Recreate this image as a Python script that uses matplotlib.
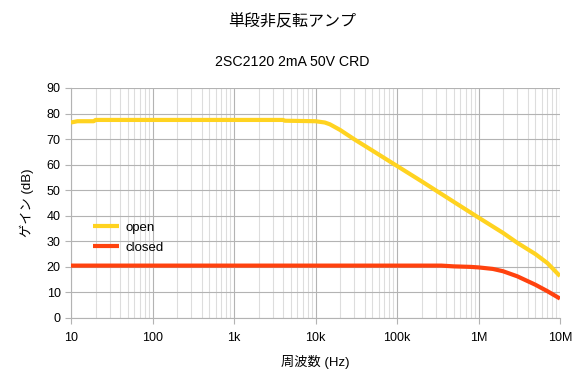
import matplotlib
matplotlib.use("Agg")
import matplotlib.pyplot as plt
import numpy as np

plt.rcParams['font.family'] = ['Liberation Sans', 'Noto Sans CJK JP', 'DejaVu Sans']

title = "単段非反転アンプ"
subtitle = "2SC2120 2mA 50V CRD"
xlabel = "周波数 (Hz)"
ylabel = "ゲイン (dB)"

freq_open = [10, 12, 19, 20, 100, 1000, 4000, 4200, 10000, 13000, 15000, 20000, 30000,
             50000, 100000, 200000, 500000, 1000000, 2000000, 3000000, 5000000, 7000000, 10000000]
gain_open = [76.5, 77.0, 77.0, 77.5, 77.5, 77.5, 77.5, 77.2, 77.0, 76.5, 75.8, 73.6, 69.9,
             65.5, 59.5, 53.5, 45.4, 39.3, 33.3, 29.4, 25.0, 21.5, 16.4]

freq_closed = [10, 100, 1000, 10000, 100000, 350000, 500000, 800000, 1000000, 1500000,
               2000000, 3000000, 5000000, 7000000, 10000000]
gain_closed = [20.5, 20.5, 20.5, 20.5, 20.5, 20.5, 20.2, 20.0, 19.8, 19.2,
               18.3, 16.3, 13.0, 10.5, 7.6]

xticks = [10, 100, 1000, 10000, 100000, 1000000, 10000000]
xticklabels = ["10", "100", "1k", "10k", "100k", "1M", "10M"]
yticks = list(range(0, 91, 10))

fig = plt.figure(figsize=(5.84, 3.87), dpi=100)
ax = fig.add_axes([71/584, 1 - 318/387, (560-71)/584, (318-88)/387])

ax.plot(freq_open, gain_open, color='#ffd320', lw=3, label='open', solid_capstyle='butt', zorder=3)
ax.plot(freq_closed, gain_closed, color='#ff420e', lw=3, label='closed', solid_capstyle='butt', zorder=3)

ax.set_xscale('log')
ax.set_xlim(10, 1e7)
ax.set_ylim(0, 90)
ax.set_xticks(xticks)
ax.set_xticklabels(xticklabels)
ax.set_yticks(yticks)
ax.grid(True, which='major', color='#b3b3b3', lw=0.8)
ax.grid(True, which='minor', axis='x', color='#dddddd', lw=0.8)
ax.set_axisbelow(True)
for s in ['top', 'right']:
    ax.spines[s].set_visible(False)
for s in ['left', 'bottom']:
    ax.spines[s].set_color('#b3b3b3')
    ax.spines[s].set_linewidth(0.8)
ax.tick_params(axis='both', which='major', colors='#b3b3b3', labelcolor='black', labelsize=9, length=4, width=0.8)
ax.tick_params(axis='x', which='minor', length=0)
ax.tick_params(axis='x', pad=6)

ax.set_xlabel(xlabel, fontsize=9.5, labelpad=8)
ax.set_ylabel(ylabel, fontsize=9.5, labelpad=9)

fig.text(0.5, 1 - 22/387, title, ha='center', va='center', fontsize=11.5, family=['Noto Sans CJK JP', 'DejaVu Sans'])
fig.text(0.5, 1 - 62/387, subtitle, ha='center', va='center', fontsize=10.2)

leg = ax.legend(loc='upper left', bbox_to_anchor=(0.02, 0.47), frameon=False, fontsize=9.5,
                handlelength=2.0, handletextpad=0.5, labelspacing=0.55)

fig.savefig('out.png', dpi=100)
